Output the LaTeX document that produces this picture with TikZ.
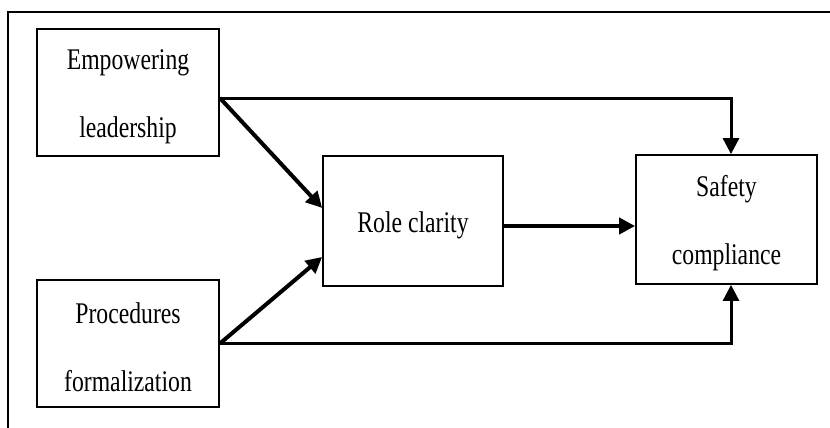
\documentclass[tikz,border=0pt]{standalone}
\usepackage{fontspec}
\setmainfont[FakeStretch=0.79]{Liberation Serif}
\usetikzlibrary{arrows.meta}

% strut that sets the height of a box's first text line
\newcommand{\firstline}{\rule{0pt}{29pt}}

\tikzset{
  box/.style={draw=black, line width=1.8pt, fill=white, align=center, inner sep=0pt,
              font=\fontsize{30}{68}\selectfont},
  link/.style={draw=black, line width=4pt, line cap=butt,
               -{Triangle[length=16pt,width=16pt]}},
  frame/.style={draw=black, line width=2pt}
}

\begin{document}
\begin{tikzpicture}[x=1pt,y=-1pt]
  \useasboundingbox (0,0) rectangle (830,428);

  % open frame: top and left rules only
  \draw[frame] (830,12) -- (8,12) -- (8,428);

  % constructs
  \node[box, minimum width=182pt, minimum height=127pt] (emp)  at (128,92.5)    {\firstline Empowering\\leadership};
  \node[box, minimum width=182pt, minimum height=127pt] (proc) at (128,343.5)   {\firstline Procedures\\formalization};
  \node[box, minimum width=180pt, minimum height=130pt] (role) at (413,221)     {\firstline Role clarity};
  \node[box, minimum width=181pt, minimum height=129pt] (safe) at (726.5,219.5) {\firstline Safety\\compliance};

  % attachment points on the box edges
  \coordinate (eOut) at ([yshift=-5.5pt]emp.east);
  \coordinate (pOut) at (proc.east);
  \coordinate (rIn1) at ([yshift=13pt]role.west);
  \coordinate (rIn2) at ([yshift=-36pt]role.west);
  \coordinate (rOut) at ([yshift=-5pt]role.east);
  \coordinate (sTop) at ([xshift=4.5pt]safe.north);
  \coordinate (sBot) at ([xshift=4.5pt]safe.south);

  % paths
  \draw[link] (eOut) -- (rIn1);
  \draw[link] (pOut) -- (rIn2);
  \draw[link, line width=4.6pt] (rOut) -- (rOut -| safe.west);
  \draw[link, line width=3pt] (eOut) -| (sTop);
  \draw[link, line width=3pt] (pOut) -| (sBot);
\end{tikzpicture}
\end{document}
